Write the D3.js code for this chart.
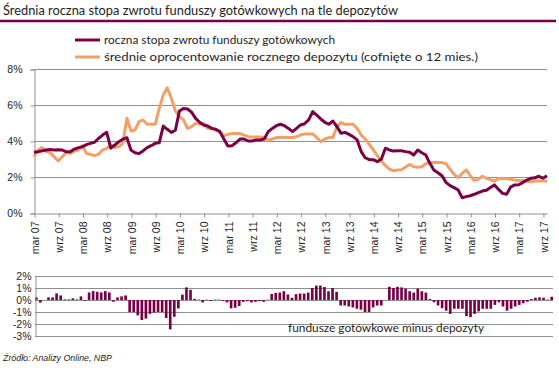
<!DOCTYPE html>
<html><head><meta charset="utf-8">
<script src="https://cdn.jsdelivr.net/npm/d3@7"></script>
<style>body{margin:0;background:#fff}svg{display:block}</style>
</head><body>
<svg id="c" width="559" height="368"></svg>
<script>
const title = "Średnia roczna stopa zwrotu funduszy gotówkowych na tle depozytów";
const seriesNames = ["roczna stopa zwrotu funduszy gotówkowych", "średnie oprocentowanie rocznego depozytu (cofnięte o 12 mies.)"];
const diffLabel = "fundusze gotówkowe minus depozyty";
const sourceText = "Źródło: Analizy Online, NBP";
const monthNames = ["sty","lut","mar","kwi","maj","cze","lip","sie","wrz","paź","lis","gru"];
const firstYear = 2007, firstMonth = 2; // marzec 2007
const tickMonths = ["mar","wrz"];
const yTicksTop = [0, 2, 4, 6, 8];
const yTicksBottom = [-3, -2, -1, 0, 1, 2];

const funds = [
 3.37,3.40,3.45,3.50,3.53,3.50,3.52,3.50,3.40,3.40,
 3.55,3.63,3.68,3.80,3.87,3.93,4.15,4.33,4.48,3.60,
 3.78,3.96,4.10,4.18,3.50,3.35,3.30,3.45,3.63,3.74,
 3.87,3.90,4.83,4.65,4.48,4.60,5.67,5.81,5.78,5.60,
 5.26,5.04,4.89,4.83,4.70,4.65,4.52,4.11,3.72,3.74,
 3.90,4.11,4.11,4.00,4.00,4.06,4.06,4.11,4.52,4.70,
 4.85,4.93,4.85,4.70,4.52,4.70,4.89,4.96,5.17,5.63,
 5.44,5.22,5.04,4.93,5.11,4.80,4.43,4.48,4.37,4.24,
 4.06,3.41,3.07,2.96,2.96,2.85,3.00,3.60,3.50,3.44,
 3.46,3.46,3.41,3.37,3.22,3.50,3.35,3.22,2.76,2.39,
 2.24,2.07,1.70,1.52,1.41,1.28,0.85,0.91,0.96,1.04,
 1.13,1.22,1.26,1.41,1.56,1.31,1.09,1.04,1.44,1.56,
 1.57,1.69,1.83,1.93,1.96,2.04,1.93,2.07
];
const deposits = [
 3.13,3.50,3.63,3.41,3.35,3.13,2.89,3.13,3.37,3.31,
 3.44,3.50,3.75,3.30,3.25,3.19,3.26,3.50,3.59,3.78,
 3.63,3.69,3.87,5.26,4.56,4.61,5.07,5.17,4.93,4.93,
 4.93,5.80,6.56,6.96,6.37,5.67,5.35,5.17,4.70,4.80,
 4.98,4.93,4.98,4.70,4.70,4.61,4.52,4.28,4.37,4.41,
 4.41,4.41,4.33,4.24,4.22,4.22,4.22,4.20,4.04,4.11,
 4.19,4.19,4.19,4.19,4.19,4.24,4.33,4.39,4.39,4.39,
 4.20,3.96,4.11,4.19,4.19,4.80,5.02,4.93,4.93,4.93,
 4.70,4.33,4.11,3.81,3.50,3.19,2.89,2.63,2.43,2.35,
 2.39,2.40,2.56,2.70,2.57,2.54,2.57,2.74,2.80,2.80,
 2.81,2.80,2.74,2.44,2.15,1.96,2.20,2.39,2.07,1.81,
 1.87,2.04,1.93,1.85,1.78,1.91,1.93,1.91,1.87,1.83,
 1.81,1.80,1.76,1.74,1.78,1.78,1.78,1.78
];
const diffs = [
 0.22,-0.22,0.00,0.22,0.22,0.55,0.38,0.05,0.05,0.14,
 0.05,0.30,-0.08,0.63,0.74,0.68,0.63,0.74,0.63,-0.14,
 0.22,0.30,0.38,-1.01,-1.01,-1.28,-1.67,-1.55,-1.15,-1.05,
 -1.00,-1.00,-1.50,-2.45,-1.40,-0.70,0.45,1.05,0.85,0.10,
 0.03,-0.20,0.03,-0.08,0.03,0.03,-0.08,-0.20,-0.70,-0.65,
 -0.50,-0.15,-0.10,-0.20,-0.15,-0.10,-0.15,0.02,0.50,0.60,
 0.62,0.73,0.46,0.19,0.49,0.54,0.54,0.62,1.00,1.20,
 1.20,1.08,0.73,1.00,0.68,-0.46,-0.46,-0.54,-0.62,-0.73,
 -0.81,-1.00,-1.00,-0.62,-0.46,-0.46,0.00,1.10,1.00,1.10,
 1.05,0.95,0.73,0.62,0.95,0.73,0.62,0.08,-0.19,-0.46,
 -0.68,-0.89,-1.16,-0.73,-0.73,-0.73,-1.35,-1.43,-1.16,-0.95,
 -0.73,-0.73,-0.73,-0.41,-0.19,-0.54,-0.89,-0.73,-0.54,-0.41,
 -0.27,-0.14,0.08,0.19,0.22,0.19,0.03,0.27
];

const MAROON = "#7a0043", ORANGE = "#f2a068", GRID = "#8f8f8f", TEXT = "#1e1e1e";
const months = d3.range(funds.length).map(i => {
  const m = (firstMonth + i) % 12, yr = firstYear + Math.floor((firstMonth + i) / 12);
  return monthNames[m] + " " + String(yr % 100).padStart(2, "0");
});
const tickVals = months.filter(m => tickMonths.includes(m.split(" ")[0]));

const svg = d3.select("#c");
const axisFont = "'Liberation Sans', Arial, sans-serif";
const textFont = "Lato, 'Open Sans', sans-serif";

// title + rule
svg.append("text").attr("x", 3).attr("y", 15).attr("font-family", textFont)
  .attr("font-size", 12.5).attr("fill", TEXT).attr("textLength", 395).attr("lengthAdjust", "spacingAndGlyphs").text(title);
svg.append("line").attr("x1", 0).attr("x2", 556).attr("y1", 21).attr("y2", 21)
  .attr("stroke", MAROON).attr("stroke-width", 2.5);

// legend
const legendEnds = [335, 478];
[[MAROON, 40], [ORANGE, 57]].forEach(([c, yy], k) => {
  svg.append("line").attr("x1", 75).attr("x2", 100).attr("y1", yy).attr("y2", yy)
    .attr("stroke", c).attr("stroke-width", 3);
  svg.append("text").attr("x", 104).attr("y", yy + 4).attr("font-family", textFont)
    .attr("font-size", 11.5).attr("fill", TEXT)
    .attr("textLength", legendEnds[k] - 104).attr("lengthAdjust", "spacingAndGlyphs").text(seriesNames[k]);
});

// top chart
const x = d3.scalePoint().domain(months).range([34, 547]);
const y = d3.scaleLinear().domain([0, 8]).range([213, 69]);

const gGrid = svg.append("g");
gGrid.selectAll("line").data(yTicksTop.filter(v => v > 0)).join("line")
  .attr("x1", 34).attr("x2", 547).attr("y1", d => Math.round(y(d)) + 0.5).attr("y2", d => Math.round(y(d)) + 0.5)
  .attr("stroke", GRID).attr("stroke-width", 1);

const yAxis = svg.append("g").attr("transform", "translate(34.5,0.5)")
  .call(d3.axisLeft(y).tickValues(yTicksTop).tickSize(4).tickPadding(8).tickFormat(d => d + "%"));
yAxis.select(".domain").attr("stroke", GRID);
yAxis.selectAll(".tick line").attr("stroke", GRID);
yAxis.selectAll(".tick text").attr("font-family", axisFont).attr("font-size", 10.5).attr("fill", TEXT);

const xAxis = svg.append("g").attr("transform", "translate(0.5,213.5)")
  .call(d3.axisBottom(x).tickValues(tickVals).tickSize(4).tickSizeOuter(0));
xAxis.select(".domain").attr("stroke", GRID);
xAxis.selectAll(".tick line").attr("stroke", GRID);
xAxis.selectAll(".tick text").attr("font-family", axisFont).attr("font-size", 10.5).attr("fill", TEXT)
  .attr("text-anchor", "end").attr("dy", "0.35em").attr("y", 0)
  .attr("transform", "translate(0,8) rotate(-90)").attr("x", 0);

const line = d3.line().x((d, i) => x(months[i])).y(d => y(d));
svg.append("path").datum(deposits).attr("d", line).attr("fill", "none")
  .attr("stroke", ORANGE).attr("stroke-width", 3).attr("stroke-linejoin", "round");
svg.append("path").datum(funds).attr("d", line).attr("fill", "none")
  .attr("stroke", MAROON).attr("stroke-width", 3).attr("stroke-linejoin", "round");

// bottom chart
const xb = d3.scaleBand().domain(months).range([35, 553]).paddingInner(0.35);
const yb = d3.scaleLinear().domain([-3, 2]).range([336, 276]);

svg.append("g").selectAll("line").data(yTicksBottom).join("line")
  .attr("x1", 35).attr("x2", 553).attr("y1", d => Math.round(yb(d)) + 0.5).attr("y2", d => Math.round(yb(d)) + 0.5)
  .attr("stroke", GRID).attr("stroke-width", 1);

svg.append("text").attr("x", 288).attr("y", 332).attr("font-family", textFont)
  .attr("font-size", 11).attr("fill", TEXT)
  .attr("textLength", 196).attr("lengthAdjust", "spacingAndGlyphs").text(diffLabel);

svg.append("g").selectAll("rect").data(diffs).join("rect")
  .attr("x", (d, i) => xb(months[i])).attr("width", xb.bandwidth())
  .attr("y", d => yb(Math.max(0, d))).attr("height", d => Math.abs(yb(d) - yb(0)))
  .attr("fill", MAROON);

const ybAxis = svg.append("g").attr("transform", "translate(35.5,0.5)")
  .call(d3.axisLeft(yb).tickValues(yTicksBottom).tickSize(0).tickPadding(4).tickFormat(d => d + "%"));
ybAxis.select(".domain").attr("stroke", GRID);
ybAxis.selectAll(".tick text").attr("font-family", axisFont).attr("font-size", 10.5).attr("fill", TEXT);

svg.append("text").attr("x", 3).attr("y", 361).attr("font-family", axisFont)
  .attr("font-style", "italic").attr("font-size", 9).attr("fill", TEXT)
  .attr("textLength", 109).attr("lengthAdjust", "spacingAndGlyphs").text(sourceText);
</script>
</body></html>
